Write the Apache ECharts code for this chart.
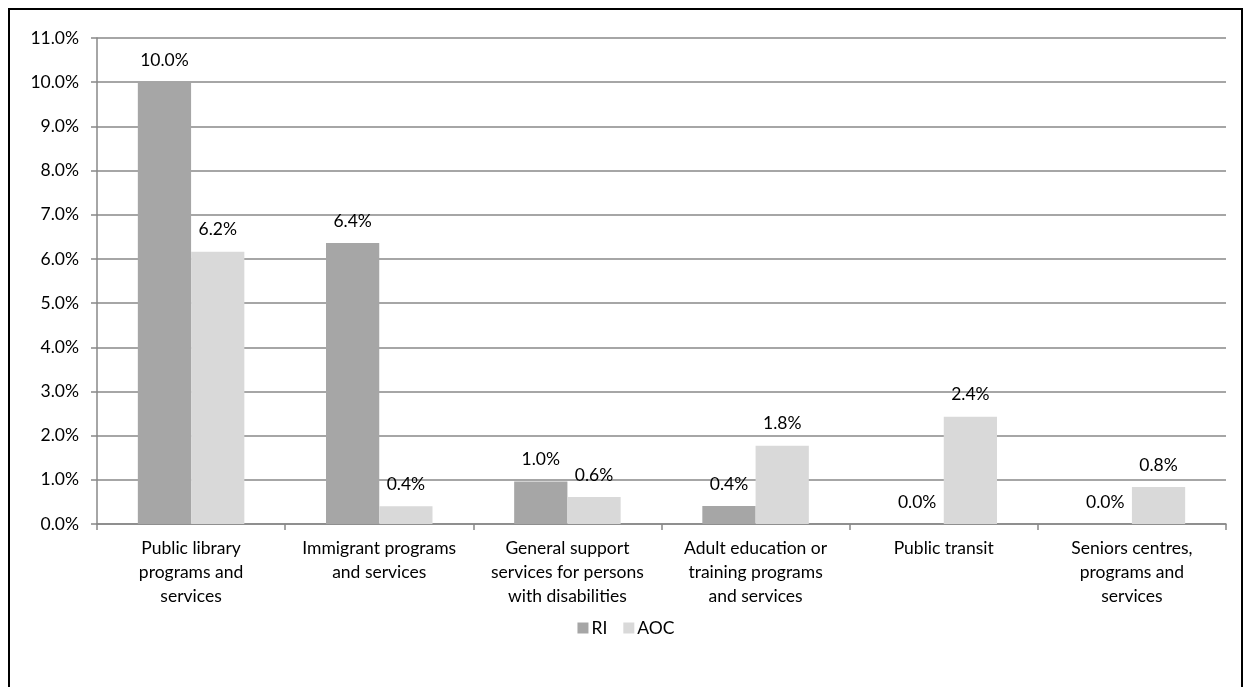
<!DOCTYPE html>
<html><head><meta charset="utf-8">
<script src="https://cdn.jsdelivr.net/npm/echarts@6/dist/echarts.min.js"></script>
<style>
html,body{margin:0;padding:0;background:#fff;}
#frame{position:absolute;left:8px;top:8px;width:1235px;height:700px;border:2px solid #000;box-sizing:border-box;}
#chart{position:absolute;left:0;top:0;width:1252px;height:687px;}
</style></head>
<body>
<div id="frame"></div>
<div id="chart"></div>
<script>
const categories = [
  "Public library\nprograms and\nservices",
  "Immigrant programs\nand services",
  "General support\nservices for persons\nwith disabilities",
  "Adult education or\ntraining programs\nand services",
  "Public transit",
  "Seniors centres,\nprograms and\nservices"
];
const seriesNames = ["RI", "AOC"];
const riValues = [10.0, 6.36, 0.96, 0.41, 0.0, 0.0];
const aocValues = [6.16, 0.40, 0.61, 1.77, 2.43, 0.84];
const yTicks = {min: 0, max: 11, interval: 1};

const font = 'Lato, "Open Sans", sans-serif';
const fs = 17.5;
const chart = echarts.init(document.getElementById('chart'), null, {renderer: 'canvas'});
const labelCfg = {
  show: true, position: 'top', distance: 13,
  color: '#000', fontSize: fs, fontFamily: font,
  formatter: p => p.value.toFixed(1) + '%'
};
chart.setOption({
  animation: false,
  textStyle: {fontFamily: font},
  grid: {left: 97, right: 26, top: 38, bottom: 163, containLabel: false},
  legend: {
    data: seriesNames, bottom: 45, left: 'center',
    itemWidth: 11, itemHeight: 11, itemGap: 16,
    icon: 'rect',
    textStyle: {fontSize: fs, color: '#000', fontFamily: font, padding: [0,0,0,-2]}
  },
  xAxis: {
    type: 'category', data: categories,
    axisLine: {lineStyle: {color: '#888', width: 1.5}},
    axisTick: {show: true, length: 6, lineStyle: {color: '#888', width: 1.5}},
    axisLabel: {color: '#000', fontSize: fs, fontFamily: font, lineHeight: 24, margin: 12, interval: 0}
  },
  yAxis: {
    type: 'value', min: yTicks.min, max: yTicks.max, interval: yTicks.interval,
    axisLine: {show: true, lineStyle: {color: '#888', width: 1.5}},
    axisTick: {show: true, length: 6, lineStyle: {color: '#888', width: 1.5}},
    splitLine: {lineStyle: {color: '#888', width: 1.5}},
    axisLabel: {color: '#000', fontSize: fs, fontFamily: font, margin: 18,
      formatter: v => v.toFixed(1) + '%'}
  },
  series: [
    {name: seriesNames[0], type: 'bar', data: riValues, barWidth: '28.3%', barGap: '0%',
     itemStyle: {color: '#a6a6a6'}, label: labelCfg},
    {name: seriesNames[1], type: 'bar', data: aocValues, barWidth: '28.3%', barGap: '0%',
     itemStyle: {color: '#d9d9d9'}, label: labelCfg}
  ]
});
</script>
</body></html>
